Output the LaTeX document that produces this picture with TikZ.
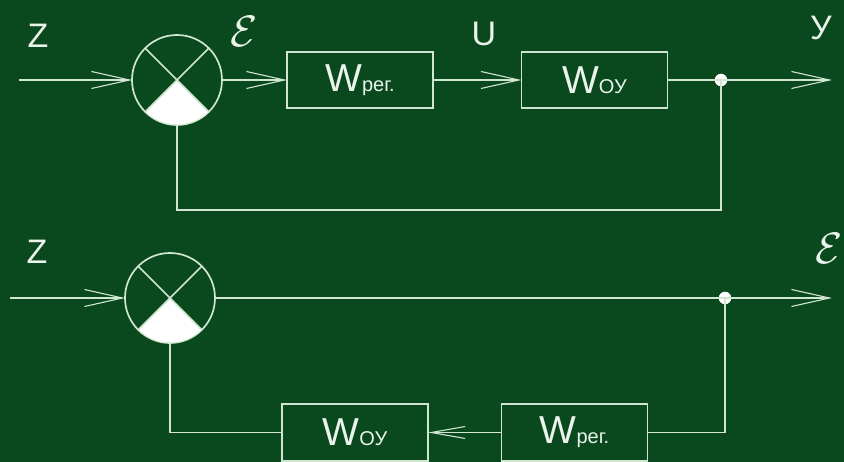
\documentclass[tikz,border=0pt]{standalone}
\usepackage{fix-cm}
\usepackage{fontspec}
\setmainfont{Liberation Sans}
\usetikzlibrary{arrows.meta}
\definecolor{board}{RGB}{10,72,30}
\definecolor{chalk}{RGB}{208,230,208}
\definecolor{chalktext}{RGB}{234,244,234}

% block label: large W with a small index on the same baseline
\newcommand{\wlabel}[1]{{\fontsize{39}{39}\selectfont W}{\fontsize{20}{20}\selectfont #1}}

\begin{document}
\begin{tikzpicture}[x=1pt,y=-1pt,
  wire/.style={draw=chalk,line width=1.7pt},
  feed/.style={wire,-{Straight Barb[length=38pt,width=17pt,line width=1.1pt]}},
  feedsmall/.style={wire,-{Straight Barb[length=34pt,width=12pt,line width=1.1pt]}},
  sumnode/.style={circle,draw=chalk,line width=1.7pt,minimum size=90pt,inner sep=0pt,outer sep=0pt},
  block/.style={draw=chalk,line width=1.7pt,minimum width=146pt,minimum height=56pt,inner sep=0pt,outer sep=0pt,text=chalktext},
  dot/.style={circle,fill=white,minimum size=12.5pt,inner sep=0pt,outer sep=0pt},
  lbl/.style={text=chalktext,inner sep=0pt,font=\fontsize{34}{34}\selectfont},
  eps/.style={text=chalktext,inner sep=0pt,font=\fontsize{44}{44}\selectfont}
]
\path[use as bounding box,fill=board] (0,0) rectangle (844,462);

% ---------- closed loop ----------
\node[sumnode] (s1) at (177,80) {};
\begin{scope}
  \clip (s1.center) circle[radius=44.5];
  \fill[white] (s1.center) -- ++(-60,60) -- ++(120,0) -- cycle;
\end{scope}
\draw[wire] (s1.135) -- (s1.-45) (s1.45) -- (s1.-135);

\node[block] (wr1) at (360,80) {\wlabel{рег.}};
\node[block] (wo1) at (594.5,80) {\wlabel{ОУ}};
\node[dot] (j1) at (721,80) {};
\coordinate (in1) at (19,80);
\coordinate (out1) at (832,80);
\coordinate (c1) at (721,210);

\draw[feed] (in1) -- (s1.west);
\draw[feed] (s1.east) -- (wr1.west);
\draw[feed] (wr1.east) -- (wo1.west);
\draw[wire] (wo1.east) -- (j1.center);
\draw[feed] (j1.center) -- (out1);
\draw[wire] (j1.center) -- (c1) -| (s1.south);

\node[lbl] (z1) at (38,36) {Z};
\node[eps] (e1) at (244,31) {$\mathcal{E}$};
\node[lbl] (u1) at (484,34) {U};
\node[lbl] (y1) at (821,28) {У};

% ---------- error transfer ----------
\node[sumnode] (s2) at (170,298) {};
\begin{scope}
  \clip (s2.center) circle[radius=44.5];
  \fill[white] (s2.center) -- ++(-60,60) -- ++(120,0) -- cycle;
\end{scope}
\draw[wire] (s2.135) -- (s2.-45) (s2.45) -- (s2.-135);

\node[dot] (j2) at (725,298) {};
\node[block,minimum height=57pt] (wr2) at (574.5,432.5) {\wlabel{рег.}};
\node[block,minimum height=57pt] (wo2) at (355,432.5) {\wlabel{ОУ}};
\coordinate (in2) at (10,298);
\coordinate (out2) at (832,298);

\draw[feed] (in2) -- (s2.west);
\draw[wire] (s2.east) -- (j2.center);
\draw[feed] (j2.center) -- (out2);
\draw[wire] (j2.center) |- (wr2.east);
\draw[feedsmall] (wr2.west) -- (wo2.east);
\draw[wire] (wo2.west) -| (s2.south);

\node[lbl] (z2) at (37,252) {Z};
\node[eps] (e2) at (829,248) {$\mathcal{E}$};
\end{tikzpicture}
\end{document}
